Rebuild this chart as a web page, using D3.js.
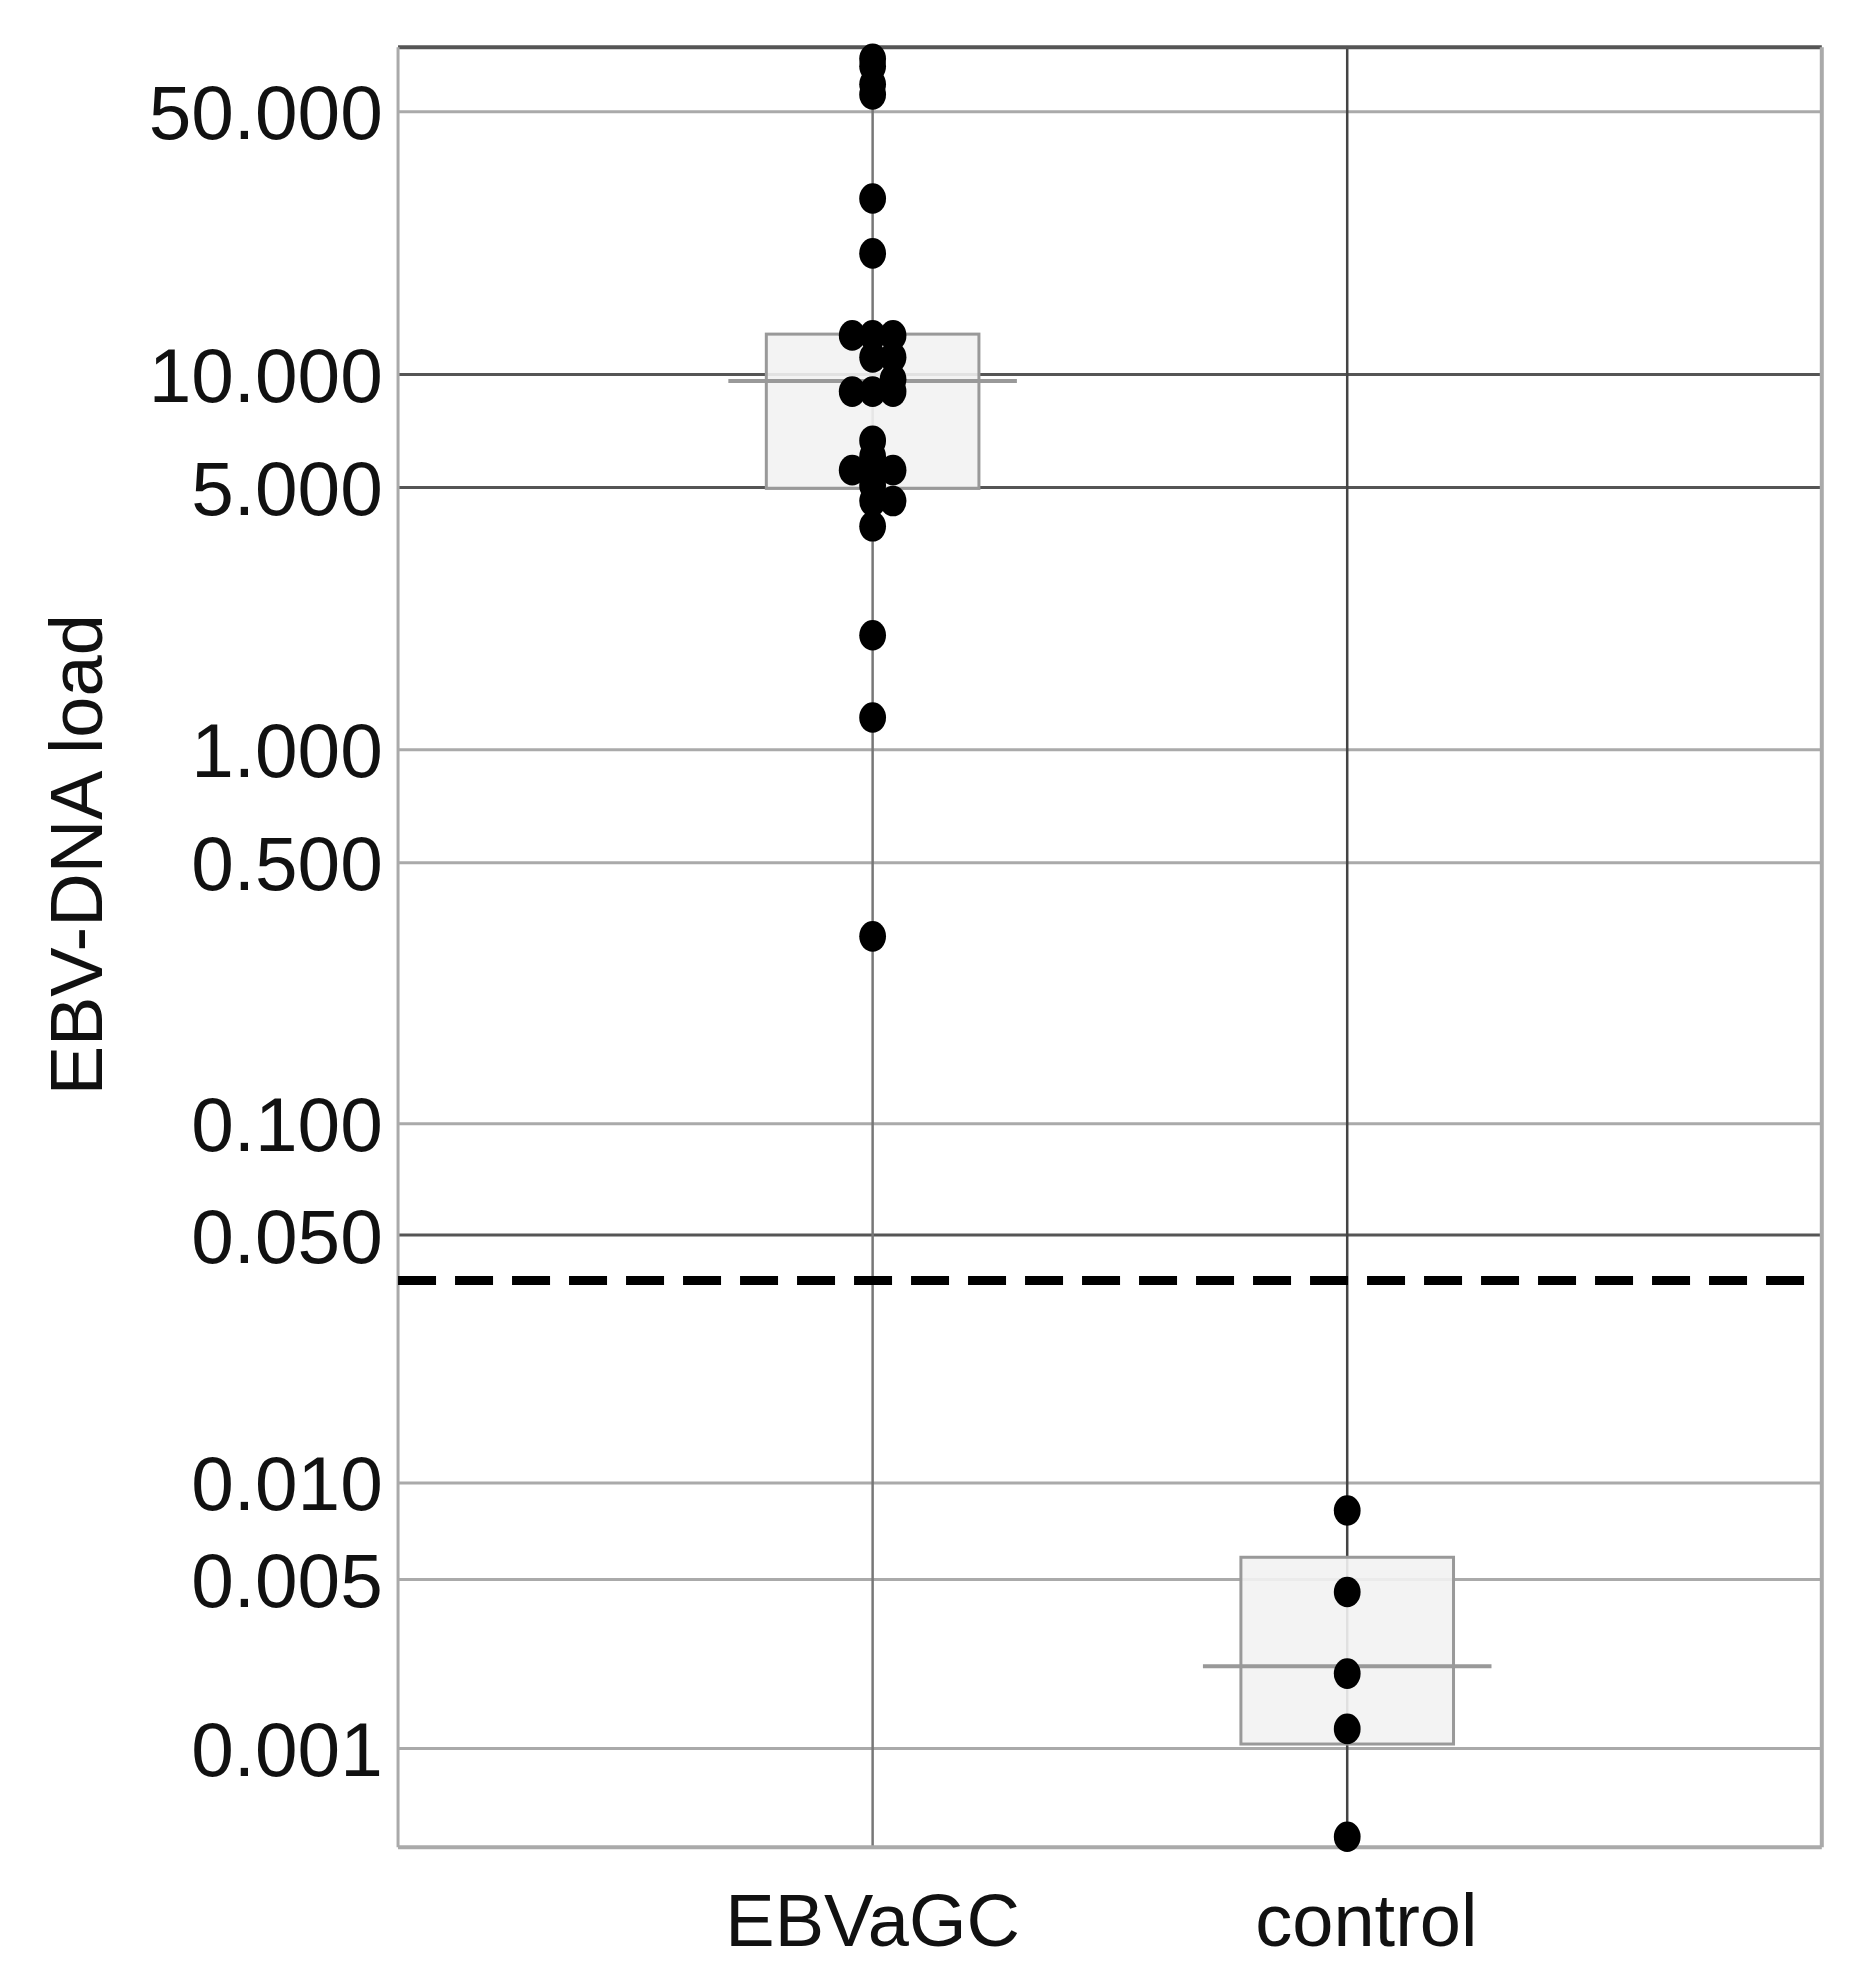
<!DOCTYPE html>
<html><head><meta charset="utf-8">
<script src="https://cdn.jsdelivr.net/npm/d3@7"></script>
<style>body{margin:0;background:#fff}</style></head>
<body><svg id="c" width="1869" height="1984"></svg>
<script>
const categories=["EBVaGC","control"];
const tickValues=[50,10,5,1,0.5,0.1,0.05,0.01,0.005,0.001];
const darkTicks=[10,5,0.05];
const ebvValues=[69.2,66.1,59.2,55.6,29.4,21.0,12.7,12.7,12.7,11.1,11.1,9.7,9.0,9.0,9.0,6.66,6.05,5.56,5.56,5.56,5.06,4.6,4.6,3.94,2.02,1.22,0.318];
const ebvOffsets=[0,0,0,0,0,0,-1,0,1,0,1,1,-1,0,1,0,0,-1,0,1,0,0,1,0,0,0,0];
const controlValues=[0.00826,0.00454,0.00228,0.00128,0.00008];
const boxStats=[{cat:"EBVaGC",q1:4.97,med:9.6,q3:12.8},{cat:"control",q1:0.00106,med:0.00244,q3:0.0059}];
const cutoff=0.0375;

const k=1869/1465;
const svg=d3.select("#c");
const L=312*k,R=1428*k,T=37*k,B=1448*k;
const y=d3.scaleSymlog().constant(0.0012).domain([0,74.3]).range([B,T]);
const x=d3.scalePoint().domain(categories).range([L,R]).padding(1);
const step=x.step();

svg.append("g").selectAll("line").data(tickValues).join("line")
 .attr("x1",L).attr("x2",R).attr("y1",d=>y(d)).attr("y2",d=>y(d))
 .attr("stroke",d=>darkTicks.includes(d)?"#555":"#aaa").attr("stroke-width",3);
svg.append("g").selectAll("line").data(categories).join("line")
 .attr("x1",d=>x(d)).attr("x2",d=>x(d)).attr("y1",T).attr("y2",B)
 .attr("stroke",(d,i)=>i?"#444":"#777").attr("stroke-width",2.5);
svg.append("line").attr("x1",L).attr("x2",R).attr("y1",T).attr("y2",T).attr("stroke","#555").attr("stroke-width",4);
svg.append("line").attr("x1",L).attr("x2",R).attr("y1",B).attr("y2",B).attr("stroke","#aaa").attr("stroke-width",4);
svg.append("line").attr("x1",L).attr("x2",L).attr("y1",T).attr("y2",B).attr("stroke","#aaa").attr("stroke-width",3);
svg.append("line").attr("x1",R).attr("x2",R).attr("y1",T).attr("y2",B).attr("stroke","#aaa").attr("stroke-width",4);

const bw=0.224*step, mw=0.304*step;
const bg=svg.append("g");
bg.selectAll("rect").data(boxStats).join("rect")
 .attr("x",d=>x(d.cat)-bw).attr("width",2*bw)
 .attr("y",d=>y(d.q3)).attr("height",d=>y(d.q1)-y(d.q3))
 .attr("fill","#f2f2f2").attr("fill-opacity",0.9).attr("stroke","#999").attr("stroke-width",3);
bg.selectAll("line").data(boxStats).join("line")
 .attr("x1",d=>x(d.cat)-mw).attr("x2",d=>x(d.cat)+mw)
 .attr("y1",d=>y(d.med)).attr("y2",d=>y(d.med)).attr("stroke","#999").attr("stroke-width",4);

svg.append("line").attr("x1",L).attr("x2",1422*k).attr("y1",y(cutoff)).attr("y2",y(cutoff))
 .attr("stroke","#000").attr("stroke-width",9).attr("stroke-dasharray","38,19");

const rx=10.5*k, ry=12*k;
svg.append("g").selectAll("ellipse").data(ebvValues).join("ellipse")
 .attr("cx",(d,i)=>x("EBVaGC")+ebvOffsets[i]*16*k).attr("cy",d=>y(d)).attr("rx",rx).attr("ry",ry).attr("fill","#000");
svg.append("g").selectAll("ellipse").data(controlValues).join("ellipse")
 .attr("cx",x("control")).attr("cy",d=>y(d)).attr("rx",rx).attr("ry",ry).attr("fill","#000");

svg.append("g").selectAll("text").data(tickValues).join("text")
 .attr("x",300*k).attr("y",d=>y(d)).attr("dy","0.36em").attr("text-anchor","end")
 .attr("font-family","Liberation Sans, Arial, sans-serif").attr("font-size",60*k).attr("fill","#111")
 .text(d=>d3.format(".3f")(d));
svg.append("g").selectAll("text").data(categories).join("text")
 .attr("x",(d,i)=>x(d)+(i?15*k:0)).attr("y",1525*k).attr("text-anchor","middle")
 .attr("font-family","Liberation Sans, Arial, sans-serif").attr("font-size",58*k).attr("fill","#111")
 .text(d=>d);
svg.append("text").attr("transform",`translate(${80*k},${670*k}) rotate(-90)`).attr("text-anchor","middle")
 .attr("font-family","Liberation Sans, Arial, sans-serif").attr("font-size",58*k).attr("fill","#111")
 .text("EBV-DNA load");
</script></body></html>
